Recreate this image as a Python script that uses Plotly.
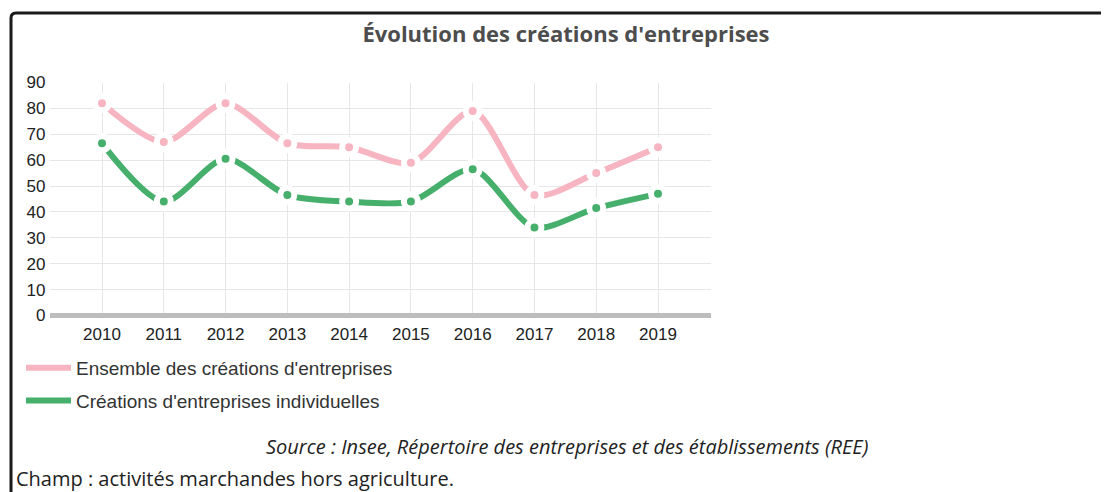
import plotly.graph_objects as go

years = [2010, 2011, 2012, 2013, 2014, 2015, 2016, 2017, 2018, 2019]
ensemble = [82, 67, 82, 66.5, 65, 59, 79, 46.5, 55, 65]
individuelles = [66.5, 44, 60.5, 46.5, 44, 44, 56.5, 34, 41.5, 47]
y_ticks = [0, 10, 20, 30, 40, 50, 60, 70, 80, 90]

PINK = "#F6B5C1"
GREEN = "#47AF6C"
OFF = 8  # page body margin
W, H = 1109 - OFF, 492 - OFF


def px(x):
    return (x - OFF) / W


def py(y):
    return 1 - (y - OFF) / H


fig = go.Figure()
for name, vals, col in [("Ensemble des créations d'entreprises", ensemble, PINK),
                        ("Créations d'entreprises individuelles", individuelles, GREEN)]:
    fig.add_trace(go.Scatter(
        x=years, y=vals, mode="lines+markers", showlegend=False, name=name,
        line=dict(color=col, width=6, shape="spline", smoothing=0.8),
        marker=dict(color=col, size=14, line=dict(color="white", width=6)),
    ))
for i, (name, col) in enumerate([("Ensemble des créations d'entreprises", PINK),
                                 ("Créations d'entreprises individuelles", GREEN)]):
    fig.add_trace(go.Scatter(x=[None], y=[None], mode="lines", name=name,
                             legendgroup=f"g{i}",
                             line=dict(color=col, width=6)))

left, right = 49.5, 711
top, bottom = 82.5, 315.5
step = (658 - 102) / 9
x0 = years[0] - (102 - left) / step
x1 = years[-1] + (right - 658) / step

fig.update_layout(
    width=W, height=H, margin=dict(l=0, r=0, t=0, b=0, autoexpand=False),
    paper_bgcolor="white", plot_bgcolor="white",
    font=dict(family="Liberation Sans, Arial, sans-serif", size=17, color="#333"),
    xaxis=dict(domain=[px(left), px(right)], range=[x0, x1], tickvals=years,
               showgrid=True, gridcolor="#e6e6e6", gridwidth=1, zeroline=False,
               showline=False, ticks="", ticklabelstandoff=6, automargin=False,
               tickfont=dict(size=17, color="#222")),
    yaxis=dict(domain=[py(bottom), py(top)], range=[0, 90], tickvals=y_ticks,
               showgrid=True, gridcolor="#e6e6e6", gridwidth=1, zeroline=True,
               zerolinecolor="#bdbdbd", zerolinewidth=5, showline=False, ticks="",
               ticklabelstandoff=3, automargin=False,
               tickfont=dict(size=17, color="#222")),
    legend=dict(x=px(21), y=py(349), xanchor="left", yanchor="top",
                orientation="v", itemwidth=45, font=dict(size=19, color="#333"),
                tracegroupgap=5, bgcolor="rgba(0,0,0,0)"),
    title=dict(text="<b>Évolution des créations d'entreprises</b>",
               x=px(566), xanchor="center", y=py(34), yanchor="middle",
               font=dict(family="Open Sans, sans-serif", size=22, color="#4d4d4d")),
    showlegend=True,
)

fig.add_annotation(text="<i>Source : Insee, Répertoire des entreprises et des établissements (REE)</i>",
                   xref="paper", yref="paper", x=px(567), y=py(446),
                   xanchor="center", yanchor="middle", showarrow=False,
                   font=dict(family="Open Sans, sans-serif", size=20, color="#222"))
fig.add_annotation(text="Champ : activités marchandes hors agriculture.",
                   xref="paper", yref="paper", x=px(14), y=py(478),
                   xanchor="left", yanchor="middle", showarrow=False,
                   font=dict(family="Open Sans, sans-serif", size=20, color="#222"))

bx, by = px(11), py(13)
fig.add_shape(type="path", xref="paper", yref="paper",
              path=f"M {bx},-0.05 L {bx},{py(18)} Q {bx},{by} {px(16)},{by} L 1.01,{by}",
              line=dict(color="#1a1a1a", width=3))

fig.write_html("out.html")
